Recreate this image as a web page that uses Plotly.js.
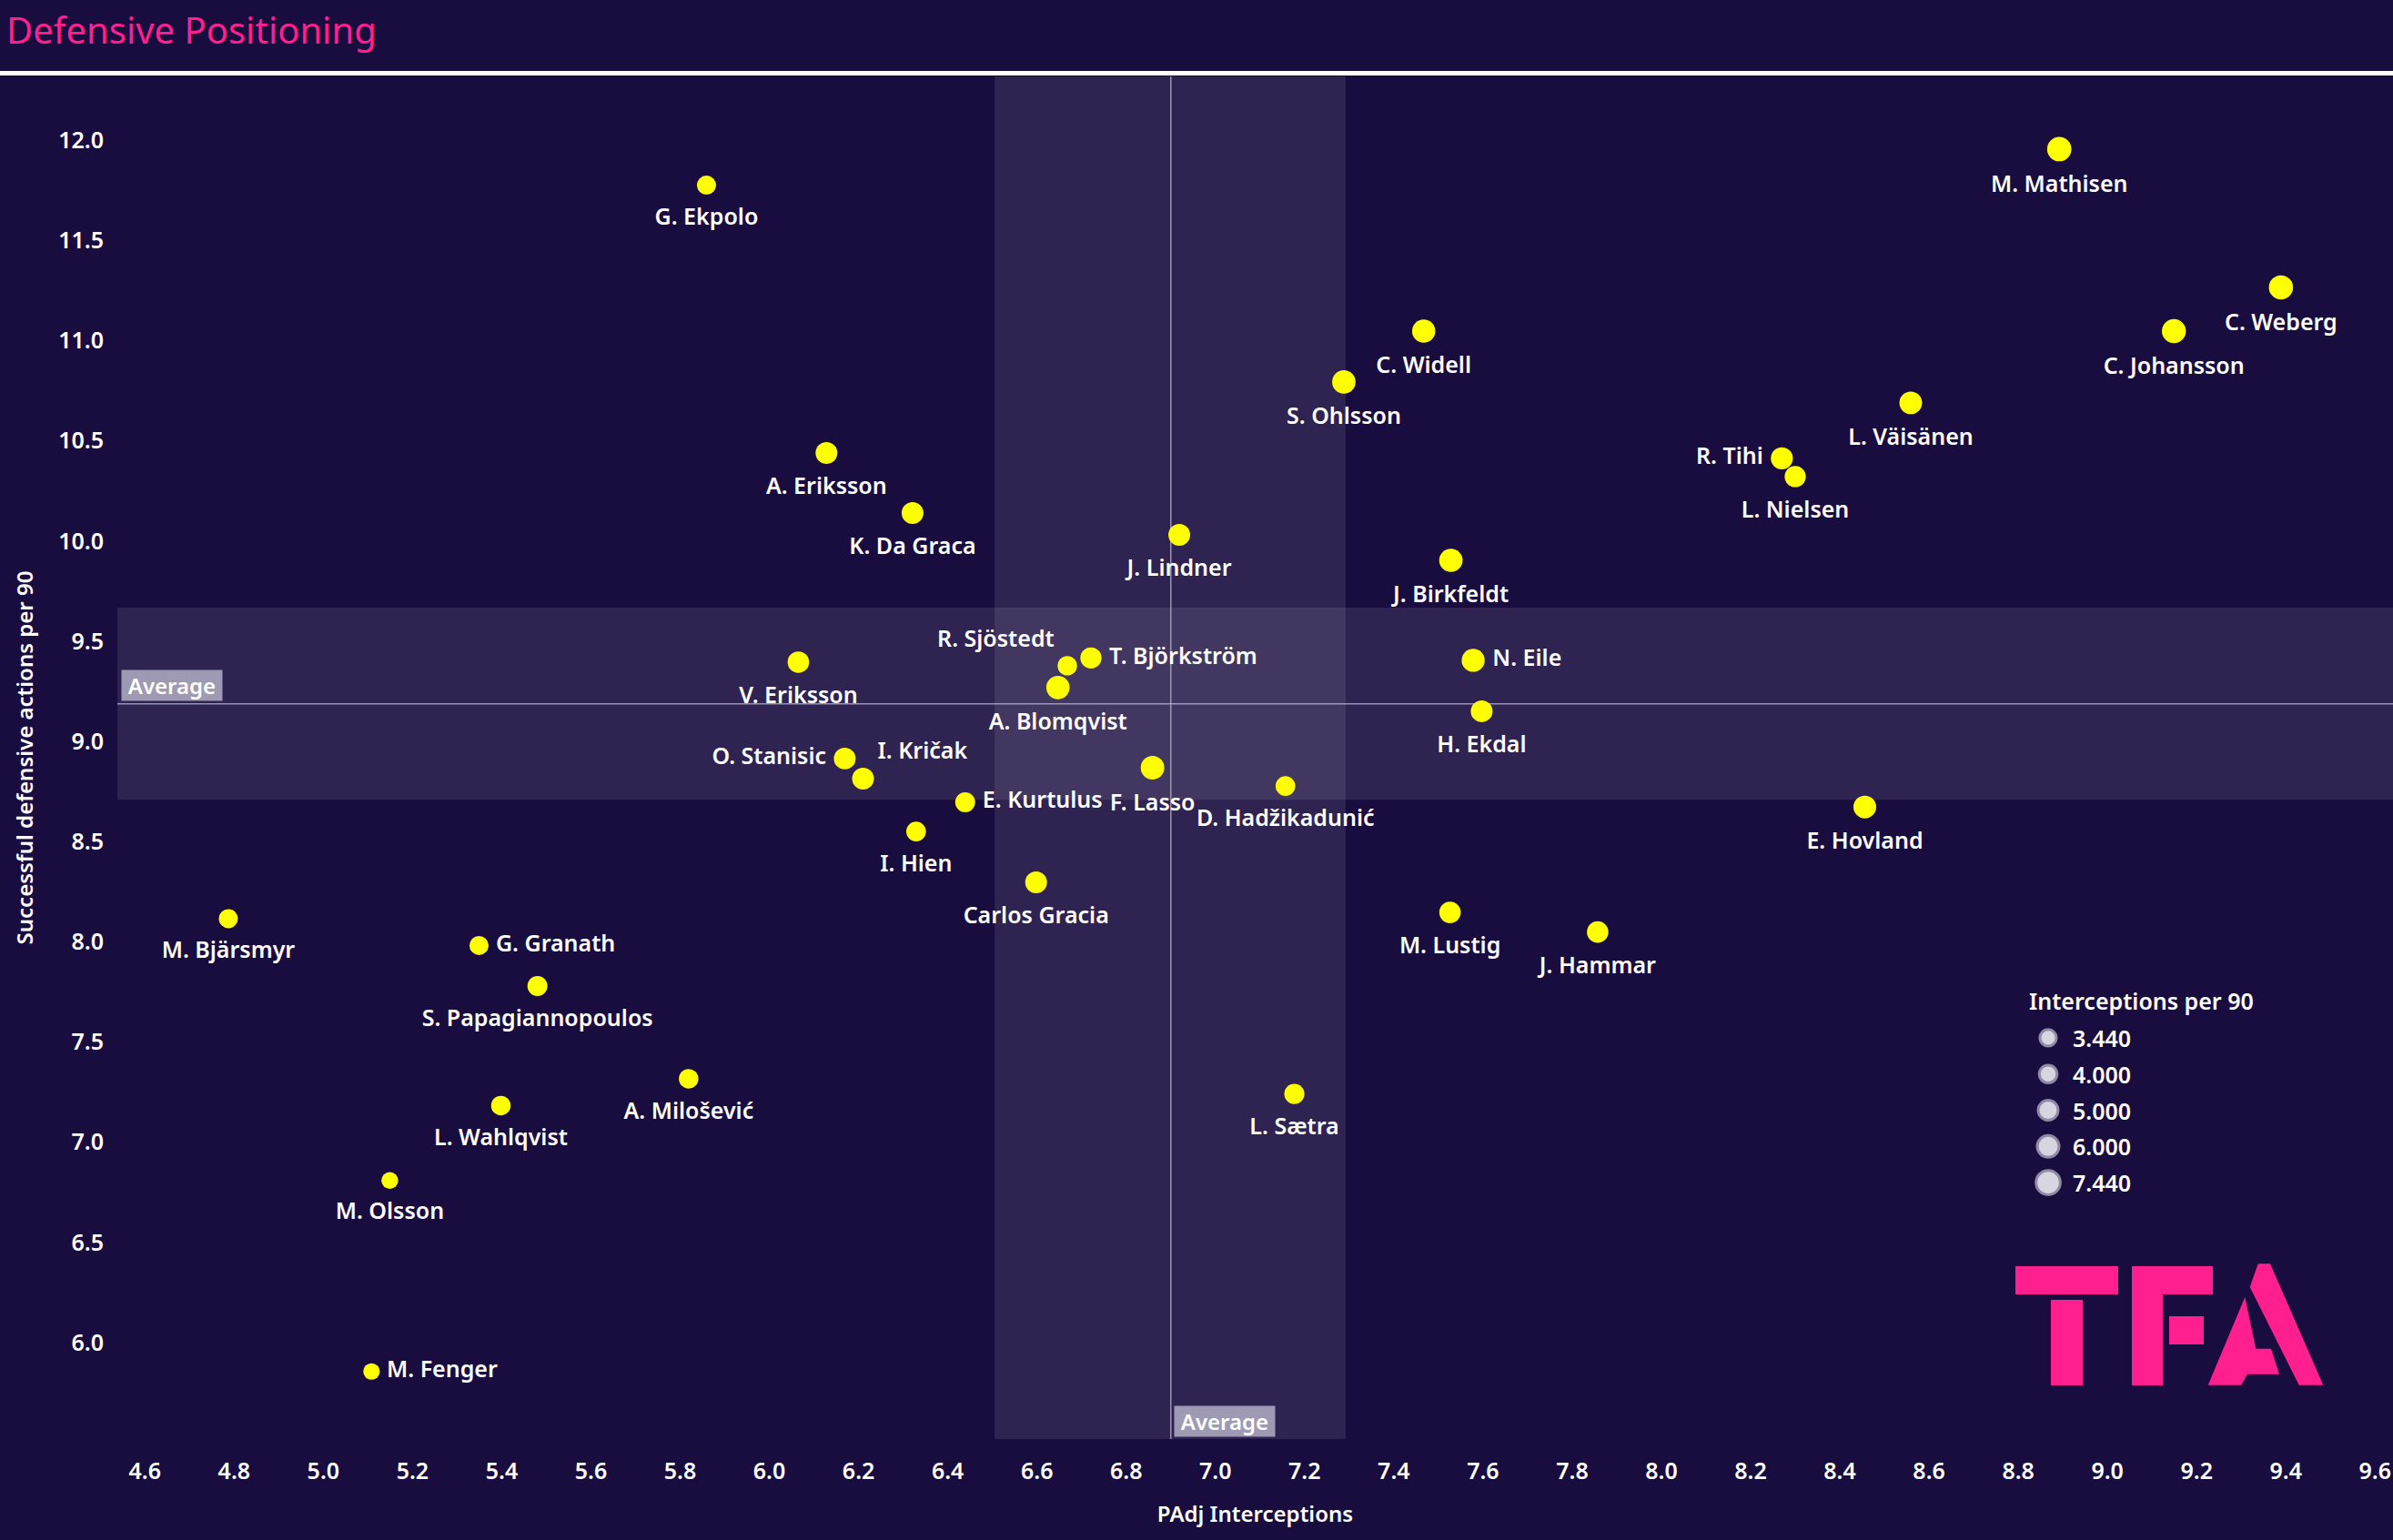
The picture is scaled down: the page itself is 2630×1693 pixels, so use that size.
<!DOCTYPE html>
<html>
<head>
<meta charset="utf-8">
<script src="https://cdn.plot.ly/plotly-3.0.1.min.js"></script>
<style>
html,body{margin:0;padding:0;background:#190d3f;}
#chart{width:2630px;height:1693px;}
</style>
</head>
<body>
<div id="chart"></div>
<script>
// ---------------- data ----------------
const players = [
  "M. Mathisen","C. Weberg","C. Johansson","L. Väisänen","R. Tihi","L. Nielsen",
  "C. Widell","S. Ohlsson","G. Ekpolo","A. Eriksson","K. Da Graca","J. Lindner",
  "J. Birkfeldt","V. Eriksson","R. Sjöstedt","T. Björkström","A. Blomqvist","N. Eile",
  "H. Ekdal","O. Stanisic","I. Kričak","E. Kurtulus","F. Lasso","D. Hadžikadunić",
  "E. Hovland","I. Hien","Carlos Gracia","M. Bjärsmyr","G. Granath","S. Papagiannopoulos",
  "M. Lustig","J. Hammar","A. Milošević","L. Wahlqvist","L. Sætra","M. Olsson","M. Fenger"
];
const padjInterceptions = [
  8.892, 9.389, 9.149, 8.559, 8.270, 8.300,
  7.467, 7.288, 5.859, 6.128, 6.321, 6.919,
  7.528, 6.065, 6.668, 6.721, 6.647, 7.578,
  7.597, 6.169, 6.210, 6.439, 6.859, 7.157,
  8.456, 6.329, 6.598, 4.787, 5.349, 5.480,
  7.526, 7.857, 5.819, 5.398, 7.177, 5.149, 5.108
];
const successfulDefActions = [
  11.956, 11.266, 11.048, 10.690, 10.413, 10.322,
  11.048, 10.794, 11.776, 10.440, 10.140, 10.031,
  9.904, 9.396, 9.378, 9.417, 9.269, 9.405,
  9.151, 8.915, 8.815, 8.697, 8.869, 8.778,
  8.673, 8.551, 8.297, 8.116, 7.982, 7.780,
  8.147, 8.049, 7.317, 7.183, 7.241, 6.809, 5.856
];
const interceptionsPer90 = [
  7.44, 7.35, 7.30, 6.50, 6.16, 5.66,
  6.80, 6.90, 4.60, 6.00, 6.00, 6.00,
  6.90, 5.80, 4.74, 5.67, 6.90, 6.70,
  6.00, 6.00, 6.00, 5.00, 7.00, 4.90,
  6.50, 4.90, 6.00, 4.60, 4.60, 5.05,
  5.80, 5.80, 4.80, 4.80, 5.10, 3.57, 3.44
];
const avgPadjInterceptions = 6.900;
const avgDefActions = 9.188;
const bandPadjInterceptions = [6.505, 7.292];
const bandDefActions = [8.709, 9.668];

const sizeLegendValues = [3.44, 4.0, 5.0, 6.0, 7.44];
const sizeLegendLabels = ["3.440", "4.000", "5.000", "6.000", "7.440"];

// ---------------- styles ----------------
const labelPositions = [
  "bottom center","bottom center","bottom center","bottom center","middle left","bottom center",
  "bottom center","bottom center","bottom center","bottom center","bottom center","bottom center",
  "bottom center","bottom center","top left","middle right","bottom center","middle right",
  "bottom center","middle left","top right","middle right","bottom center","bottom center",
  "bottom center","bottom center","bottom center","bottom center","middle right","bottom center",
  "bottom center","bottom center","bottom center","bottom center","bottom center","bottom center","middle right"
];
const labelPad = {"bottom center": 17, "middle right": 7, "middle left": 7, "top left": 0, "top right": 0};

const W = 2630, H = 1693, ML = 129, MR = 0, MT = 84, MB = 111;
const PW = W - ML - MR, PH = H - MT - MB;
const px2x = p => (p - ML) / PW;
const px2y = p => (H - MB - p) / PH;

const BG = "#190d3f";
const PINK = "#ff1f8f";
const FONT = "Noto Sans, Open Sans, sans-serif";
const maxDiameter = 26.7;
const sizeref = 2 * Math.max(...interceptionsPer90) / (maxDiameter * maxDiameter);
// diameter plotly draws for a value in 'area' mode (used only to pad label offsets)
const diam = v => 2 * Math.sqrt(v / 2 / sizeref);

const points = {
  type: "scatter",
  mode: "markers",
  x: padjInterceptions,
  y: successfulDefActions,
  marker: {
    color: "#ffff00",
    opacity: 1,
    size: interceptionsPer90,
    sizemode: "area",
    sizeref: sizeref,
    line: {width: 0}
  },
  cliponaxis: false,
  hoverinfo: "skip",
  showlegend: false,
  xaxis: "x", yaxis: "y"
};

// label layer: same positions, invisible (slightly larger) markers so the texts sit a bit further away
const labels = {
  type: "scatter",
  mode: "markers+text",
  x: padjInterceptions,
  y: successfulDefActions,
  text: players,
  textposition: labelPositions,
  textfont: {family: FONT, size: 25, color: "#ffffff", weight: 600},
  marker: {
    color: "rgba(0,0,0,0)",
    opacity: 0,
    sizemode: "diameter",
    size: interceptionsPer90.map((v, i) => diam(v) + labelPad[labelPositions[i]]),
    line: {width: 0}
  },
  cliponaxis: false,
  hoverinfo: "skip",
  showlegend: false,
  xaxis: "x", yaxis: "y"
};

const legendMarks = {
  type: "scatter",
  mode: "markers",
  x: sizeLegendValues.map(() => 0),
  y: sizeLegendValues.map((v, i) => i),
  marker: {
    color: "#d7d5df",
    opacity: 1,
    size: sizeLegendValues,
    sizemode: "area",
    sizeref: sizeref,
    line: {color: "#8f8aa5", width: 3}
  },
  cliponaxis: false,
  hoverinfo: "skip",
  showlegend: false,
  xaxis: "x2", yaxis: "y2"
};

// ---------- logo (TFA) in pixel coordinates, converted to paper ----------
function rectPx(x0, y0, x1, y1) {
  return {type: "rect", xref: "paper", yref: "paper",
    x0: px2x(x0), x1: px2x(x1), y0: px2y(y1), y1: px2y(y0),
    fillcolor: PINK, line: {width: 0}, layer: "above"};
}
function polyPx(pts) {
  const d = pts.map((p, i) => (i ? "L" : "M") + px2x(p[0]).toFixed(5) + "," + px2y(p[1]).toFixed(5)).join(" ") + " Z";
  return {type: "path", xref: "paper", yref: "paper", path: d,
    fillcolor: PINK, line: {width: 0}, layer: "above"};
}
const logo = [
  rectPx(2215, 1392, 2328, 1423),
  rectPx(2254, 1429, 2289, 1523),
  rectPx(2343, 1392, 2377, 1523),
  rectPx(2377, 1392, 2432, 1423),
  rectPx(2384, 1447, 2422, 1478),
  polyPx([[2481.7,1389.3],[2495,1389.3],[2553.3,1522.7],[2526.7,1522.7],[2472.7,1415]]),
  polyPx([[2467.3,1426],[2426.7,1522.7],[2463.3,1522.7],[2470,1510.7],[2505,1510.7],[2496,1482.7],[2479.3,1482.7]])
];

const shapes = [
  {type: "rect", xref: "x", yref: "paper", x0: bandPadjInterceptions[0], x1: bandPadjInterceptions[1], y0: 0, y1: 1,
   fillcolor: "rgba(255,255,255,0.095)", line: {width: 0}, layer: "below"},
  {type: "rect", xref: "paper", yref: "y", x0: 0, x1: 1, y0: bandDefActions[0], y1: bandDefActions[1],
   fillcolor: "rgba(255,255,255,0.095)", line: {width: 0}, layer: "below"},
  {type: "line", xref: "x", yref: "paper", x0: avgPadjInterceptions, x1: avgPadjInterceptions, y0: 0, y1: 1,
   line: {color: "rgba(190,185,210,0.75)", width: 1.5}, layer: "below"},
  {type: "line", xref: "paper", yref: "y", x0: 0, x1: 1, y0: avgDefActions, y1: avgDefActions,
   line: {color: "rgba(190,185,210,0.75)", width: 1.5}, layer: "below"},
  {type: "line", xref: "paper", yref: "paper", x0: px2x(0), x1: px2x(W), y0: px2y(80.5), y1: px2y(80.5),
   line: {color: "#ffffff", width: 5}}
].concat(logo);

const annotations = [
  {xref: "paper", yref: "y", x: 0, y: avgDefActions, xanchor: "left", yanchor: "bottom",
   xshift: 4, yshift: 3, width: 110, height: 33, align: "center", valign: "middle",
   text: "Average", showarrow: false, bgcolor: "#9e9ab4", borderpad: 0,
   font: {family: FONT, size: 24, color: "#ffffff", weight: 600}},
  {xref: "x", yref: "paper", x: avgPadjInterceptions, y: 0, xanchor: "left", yanchor: "bottom",
   xshift: 3, yshift: 2, width: 110, height: 33, align: "center", valign: "middle",
   text: "Average", showarrow: false, bgcolor: "#9e9ab4", borderpad: 0,
   font: {family: FONT, size: 24, color: "#ffffff", weight: 600}},
  {xref: "paper", yref: "paper", x: px2x(2228), y: px2y(1100), xanchor: "left", yanchor: "middle",
   text: "Interceptions per 90", showarrow: false,
   font: {family: FONT, size: 25, color: "#ffffff", weight: 600}}
].concat(sizeLegendLabels.map((lbl, i) => ({
  xref: "x2", yref: "y2", x: 1, y: i, xanchor: "left", yanchor: "middle",
  text: lbl, showarrow: false, font: {family: FONT, size: 25, color: "#ffffff", weight: 600}
})));

const layout = {
  width: W, height: H,
  paper_bgcolor: BG, plot_bgcolor: BG,
  margin: {l: ML, r: MR, t: MT, b: MB, pad: 0},
  showlegend: false,
  title: {
    text: "Defensive Positioning",
    xref: "container", yref: "container",
    x: 7 / W, xanchor: "left",
    y: 1 - 34 / H, yanchor: "middle",
    font: {family: FONT, size: 40, color: PINK}
  },
  xaxis: {
    range: [4.5382, 9.6402],
    tick0: 4.6, dtick: 0.2, tickformat: ".1f",
    showgrid: false, zeroline: false, showline: false, ticks: "",
    ticklabelstandoff: 18,
    tickfont: {family: FONT, size: 25, color: "#ffffff", weight: 600},
    title: {text: "PAdj Interceptions", standoff: 24,
            font: {family: FONT, size: 24, color: "#ffffff", weight: 600}},
    automargin: false, fixedrange: true
  },
  yaxis: {
    range: [5.519, 12.319],
    tick0: 6, dtick: 0.5, tickformat: ".1f",
    showgrid: false, zeroline: false, showline: false, ticks: "",
    ticklabelstandoff: 14,
    tickfont: {family: FONT, size: 25, color: "#ffffff", weight: 600},
    title: {text: "Successful defensive actions per 90", standoff: 20,
            font: {family: FONT, size: 24, color: "#ffffff", weight: 600}},
    automargin: false, fixedrange: true
  },
  xaxis2: {
    domain: [px2x(2226), px2x(2276)], range: [-1, 1], anchor: "y2",
    visible: false, fixedrange: true
  },
  yaxis2: {
    domain: [px2y(1320), px2y(1121)], range: [4.5, -0.5], autorange: false, anchor: "x2",
    visible: false, fixedrange: true
  },
  shapes: shapes,
  annotations: annotations
};

Plotly.newPlot("chart", [points, labels, legendMarks], layout, {displayModeBar: false, staticPlot: true});
</script>
</body>
</html>
